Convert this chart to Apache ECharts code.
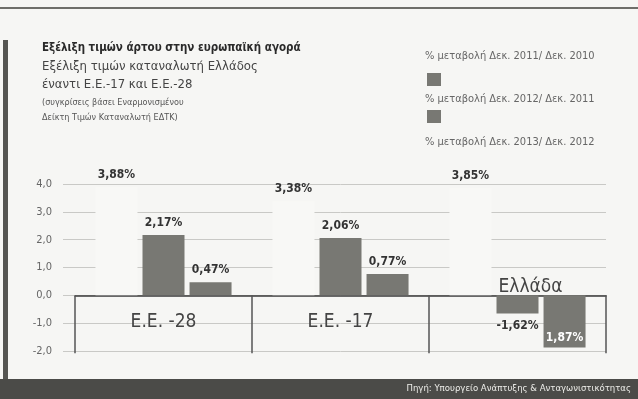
<!DOCTYPE html>
<html>
<head>
<meta charset="utf-8">
<script src="https://cdn.jsdelivr.net/npm/echarts@6/dist/echarts.min.js"></script>
<style>
  html, body { margin: 0; padding: 0; background: #f6f6f4; }
  #chart { width: 638px; height: 399px; }
</style>
</head>
<body>
<div id="chart"></div>
<script>
// data
const categories = ['Ε.Ε. -28', 'Ε.Ε. -17', 'Ελλάδα']
const change2011 = [3.88, 3.38, 3.85]
const change2012 = [2.17, 2.06, -0.65] // Greece bar is printed shorter than its label
const change2013 = [0.47, 0.77, -1.87]
const labels2011 = ['3,88%', '3,38%', '3,85%']
const labels2012 = ['2,17%', '2,06%', '-1,62%']
const labels2013 = ['0,47%', '0,77%', '1,87%']
const seriesNames = [
  '% μεταβολή Δεκ. 2011/ Δεκ. 2010',
  '% μεταβολή Δεκ. 2012/ Δεκ. 2011',
  '% μεταβολή Δεκ. 2013/ Δεκ. 2012'
]

const narrow = '"Liberation Sans Narrow", "DejaVu Sans Condensed", sans-serif'
const boldCond = '"DejaVu Sans Condensed", "Liberation Sans Narrow", sans-serif'
const barGrey = '#787873'

const chart = echarts.init(document.getElementById('chart'))

const barLabel = (texts) => ({
  show: true,
  position: 'top',
  distance: 6,
  fontFamily: boldCond,
  fontWeight: 'bold',
  fontSize: 12,
  color: '#333',
  formatter: (p) => texts[p.dataIndex]
})

chart.setOption({
  backgroundColor: '#f6f6f4',
  animation: false,
  grid: { left: 75, right: 32, top: 184, bottom: 48 },
  xAxis: {
    type: 'category',
    data: categories.map((c, i) => i === 2
      ? { value: c, textStyle: { verticalAlign: 'bottom', padding: [0, 0, 16, 26] } }
      : c),
    axisLine: { onZero: true, lineStyle: { color: '#3a3a3a', width: 1.5 } },
    axisTick: { show: true, length: 58, lineStyle: { color: '#555', width: 1.5 } },
    // ticks reach far down, so pull the labels back up next to the zero line
    axisLabel: { margin: -38, fontSize: 19, color: '#444', fontFamily: narrow },
    splitLine: { show: false }
  },
  yAxis: {
    type: 'value',
    min: -2,
    max: 4,
    interval: 1,
    axisLine: { show: false },
    axisTick: { show: true, length: 12, lineStyle: { color: '#c9c9c6' } },
    axisLabel: {
      margin: 23,
      fontSize: 11,
      color: '#666',
      fontFamily: narrow,
      formatter: (v) => v.toFixed(1).replace('.', ',')
    },
    splitLine: { lineStyle: { color: '#c9c9c6', width: 1 } }
  },
  series: [{
    name: seriesNames[0],
    type: 'bar',
    barWidth: 42,
    barGap: '12%',
    itemStyle: { color: '#f8f8f6' },
    label: barLabel(labels2011),
    data: change2011
  }, {
    name: seriesNames[1],
    type: 'bar',
    barWidth: 42,
    barGap: '12%',
    itemStyle: { color: barGrey },
    label: barLabel(labels2012),
    data: change2012.map((v, i) => i === 2 ? { value: v, label: { position: 'bottom' } } : v)
  }, {
    name: seriesNames[2],
    type: 'bar',
    barWidth: 42,
    barGap: '12%',
    itemStyle: { color: barGrey },
    label: barLabel(labels2013),
    data: change2013.map((v, i) => i === 2
      ? { value: v, label: { position: 'insideBottom', distance: 4, color: '#fff' } }
      : v)
  }],
  graphic: [
    // page edge and frame
    { type: 'rect', shape: { x: 0, y: 7, width: 638, height: 2 }, style: { fill: '#6e6e6a' } },
    { type: 'rect', shape: { x: 3, y: 40, width: 5, height: 340 }, style: { fill: '#555552' } },
    { type: 'rect', shape: { x: 0, y: 379, width: 638, height: 20 }, style: { fill: '#4b4b48' } },
    {
      type: 'text', right: 7, top: 384,
      style: { text: 'Πηγή: Υπουργείο Ανάπτυξης & Ανταγωνιστικότητας', fill: '#eeeeea', font: '9.5px ' + narrow }
    },
    // titles
    {
      type: 'text', left: 42, top: 42,
      style: { text: 'Εξέλιξη τιμών άρτου στην ευρωπαϊκή αγορά', fill: '#2a2a2a', font: 'bold 11.5px ' + boldCond }
    },
    {
      type: 'text', left: 42, top: 60,
      style: { text: 'Εξέλιξη τιμών καταναλωτή Ελλάδος', fill: '#444', font: '13px ' + narrow }
    },
    {
      type: 'text', left: 42, top: 78,
      style: { text: 'έναντι Ε.Ε.-17 και Ε.Ε.-28', fill: '#444', font: '13px ' + narrow }
    },
    {
      type: 'text', left: 42, top: 98,
      style: { text: '(συγκρίσεις βάσει Εναρμονισμένου', fill: '#555', font: '9px ' + narrow }
    },
    {
      type: 'text', left: 42, top: 113,
      style: { text: 'Δείκτη Τιμών Καταναλωτή ΕΔΤΚ)', fill: '#555', font: '9px ' + narrow }
    },
    // legend
    { type: 'text', left: 425, top: 51, style: { text: seriesNames[0], fill: '#666', font: '11px ' + narrow } },
    { type: 'rect', shape: { x: 427, y: 73, width: 14, height: 13 }, style: { fill: barGrey } },
    { type: 'text', left: 425, top: 94, style: { text: seriesNames[1], fill: '#666', font: '11px ' + narrow } },
    { type: 'rect', shape: { x: 427, y: 110, width: 14, height: 13 }, style: { fill: barGrey } },
    { type: 'text', left: 425, top: 137, style: { text: seriesNames[2], fill: '#666', font: '11px ' + narrow } }
  ]
})
</script>
</body>
</html>
